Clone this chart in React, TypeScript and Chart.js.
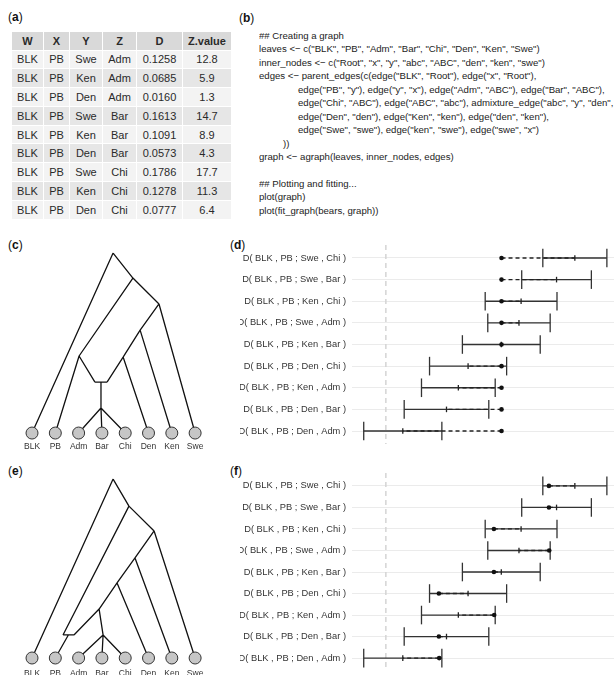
import React, { useEffect, useRef } from 'react';
import { Chart, registerables } from 'chart.js';
Chart.register(...registerables);

const FONT = '"Liberation Sans", Arial, Helvetica, sans-serif';

// ---------- Table (a) data ----------
const colHeaders = ['W', 'X', 'Y', 'Z', 'D', 'Z.value'];
const colW = ['BLK', 'BLK', 'BLK', 'BLK', 'BLK', 'BLK', 'BLK', 'BLK', 'BLK'];
const colX = ['PB', 'PB', 'PB', 'PB', 'PB', 'PB', 'PB', 'PB', 'PB'];
const colY = ['Swe', 'Ken', 'Den', 'Swe', 'Ken', 'Den', 'Swe', 'Ken', 'Den'];
const colZ = ['Adm', 'Adm', 'Adm', 'Bar', 'Bar', 'Bar', 'Chi', 'Chi', 'Chi'];
const colD = [0.1258, 0.0685, 0.0160, 0.1613, 0.1091, 0.0573, 0.1786, 0.1278, 0.0777];
const colZval = [12.8, 5.9, 1.3, 14.7, 8.9, 4.3, 17.7, 11.3, 6.4];

// fitted D values (table order) for the two graphs
const fitC = [0.1093, 0.1093, 0.1093, 0.1093, 0.1093, 0.1093, 0.1093, 0.1093, 0.1093];
const fitE = [0.1544, 0.1024, 0.0504, 0.1541, 0.1021, 0.0501, 0.1541, 0.1021, 0.0501];

// ---------- Code (b) ----------
const codeLines: [number, string][] = [
  [0, '## Creating a graph'],
  [0, 'leaves <\u2212 c("BLK", "PB", "Adm", "Bar", "Chi", "Den", "Ken", "Swe")'],
  [0, 'inner_nodes <\u2212 c("Root", "x", "y", "abc", "ABC", "den", "ken", "swe")'],
  [0, 'edges <\u2212 parent_edges(c(edge("BLK", "Root"), edge("x", "Root"),'],
  [2, 'edge("PB", "y"), edge("y", "x"), edge("Adm", "ABC"), edge("Bar", "ABC"),'],
  [2, 'edge("Chi", "ABC"), edge("ABC", "abc"), admixture_edge("abc", "y", "den", "a"),'],
  [2, 'edge("Den", "den"), edge("Ken", "ken"), edge("den", "ken"),'],
  [2, 'edge("Swe", "swe"), edge("ken", "swe"), edge("swe", "x")'],
  [1, '))'],
  [0, 'graph <\u2212 agraph(leaves, inner_nodes, edges)'],
  [0, ''],
  [0, '## Plotting and fitting...'],
  [0, 'plot(graph)'],
  [0, 'plot(fit_graph(bears, graph))'],
];

// ---------- Trees (c), (e) ----------
const leafNames = ['BLK', 'PB', 'Adm', 'Bar', 'Chi', 'Den', 'Ken', 'Swe'];
const leafPos = [1, 2, 3, 4, 5, 6, 7, 8];

const treeCInner = ['Root', 'x', 'swe', 'ken', 'den', 'y', 'admL', 'admM', 'admR', 'ABC'];
const treeCX = [4.48, 5.33, 6.45, 5.64, 4.91, 3.02, 3.70, 3.96, 4.22, 3.96];
const treeCH = [10.0, 8.61, 7.17, 5.72, 4.22, 4.28, 2.83, 2.83, 2.83, 1.39];
const treeCEdges: [string, string][] = [
  ['Root', 'BLK'], ['Root', 'x'], ['x', 'y'], ['x', 'swe'], ['y', 'PB'], ['y', 'admL'],
  ['admL', 'admR'], ['den', 'admR'], ['admM', 'ABC'], ['ABC', 'Adm'], ['ABC', 'Bar'],
  ['ABC', 'Chi'], ['den', 'Den'], ['ken', 'den'], ['ken', 'Ken'], ['swe', 'ken'], ['swe', 'Swe'],
];

const treeEInner = ['Root', 'x', 'swe', 'ken', 'den', 'abc', 'admL', 'admM', 'admR', 'ABC'];
const treeEX = [4.48, 5.16, 6.24, 5.42, 4.65, 3.88, 2.33, 2.56, 2.80, 4.05];
const treeEH = [9.94, 8.44, 7.06, 5.56, 4.17, 2.72, 1.28, 1.28, 1.28, 1.28];
const treeEEdges: [string, string][] = [
  ['Root', 'BLK'], ['Root', 'x'], ['x', 'admL'], ['x', 'swe'], ['admL', 'admR'], ['admM', 'PB'],
  ['abc', 'admR'], ['abc', 'ABC'], ['den', 'abc'], ['ABC', 'Adm'], ['ABC', 'Bar'], ['ABC', 'Chi'],
  ['den', 'Den'], ['ken', 'den'], ['ken', 'Ken'], ['swe', 'ken'], ['swe', 'Swe'],
];

function TreeChart(props: {
  inner: string[]; ix: number[]; ih: number[]; edges: [string, string][];
  left: number; top: number; width: number; height: number;
  xMin: number; xMax: number; yMin: number; yMax: number; labelOffset: number;
}) {
  const ref = useRef<HTMLCanvasElement>(null);
  useEffect(() => {
    const pos = (n: string) => {
      const li = leafNames.indexOf(n);
      if (li >= 0) return { x: leafPos[li], y: 0 };
      const ii = props.inner.indexOf(n);
      return { x: props.ix[ii], y: props.ih[ii] };
    };
    const edgeData: any[] = [];
    props.edges.forEach(([a, b]) => {
      edgeData.push(pos(a), pos(b), { x: null, y: null });
    });
    const labelPlugin = {
      id: 'leafLabels',
      afterDatasetsDraw(chart: any) {
        const { ctx, scales } = chart;
        ctx.save();
        ctx.font = `8.5px ${FONT}`;
        ctx.fillStyle = '#333';
        ctx.textAlign = 'center';
        ctx.textBaseline = 'middle';
        leafNames.forEach((n, i) => {
          ctx.fillText(n, scales.x.getPixelForValue(leafPos[i]), scales.y.getPixelForValue(0) + props.labelOffset);
        });
        ctx.restore();
      },
    };
    const chart = new Chart(ref.current!, {
      type: 'scatter',
      data: {
        datasets: [
          {
            data: leafPos.map((x) => ({ x, y: 0 })),
            pointRadius: 6,
            pointBackgroundColor: '#c6c6c6',
            pointBorderColor: '#333',
            pointBorderWidth: 1,
            showLine: false,
            clip: false,
          } as any,
          {
            data: edgeData,
            showLine: true,
            borderColor: '#111',
            borderWidth: 1.3,
            pointRadius: 0,
            spanGaps: false,
          } as any,
        ],
      },
      options: {
        animation: false,
        responsive: false,
        events: [],
        layout: { padding: 0, autoPadding: false },
        plugins: { legend: { display: false }, tooltip: { enabled: false } },
        scales: {
          x: { type: 'linear', min: props.xMin, max: props.xMax, display: false },
          y: { type: 'linear', min: props.yMin, max: props.yMax, display: false },
        },
      } as any,
      plugins: [labelPlugin],
    });
    return () => chart.destroy();
  }, []);
  return (
    <canvas ref={ref} width={props.width} height={props.height}
      style={{ position: 'absolute', left: props.left, top: props.top }} />
  );
}

// ---------- Forest plots (d), (f) ----------
const rowOrder = colD.map((_, i) => i).sort((a, b) => colD[b] - colD[a]);
const rowLabels = rowOrder.map((i) => `D( ${colW[i]} , ${colX[i]} ; ${colY[i]} , ${colZ[i]} )`);

function ForestChart(props: { pred: number[]; left: number; top: number; width: number; height: number; padTop: number; padBottom: number }) {
  const ref = useRef<HTMLCanvasElement>(null);
  useEffect(() => {
    const lo = (i: number) => colD[i] - 3 * colD[i] / colZval[i];
    const hi = (i: number) => colD[i] + 3 * colD[i] / colZval[i];
    const gap = { x: null, y: null };
    const errData: any[] = [];
    const capData: any[] = [];
    const dashData: any[] = [];
    rowOrder.forEach((i, r) => {
      errData.push({ x: lo(i), y: r + 1 }, { x: hi(i), y: r + 1 }, gap);
      capData.push({ x: lo(i), y: r + 1 }, { x: hi(i), y: r + 1 });
      dashData.push({ x: props.pred[i], y: r + 1 }, { x: colD[i], y: r + 1 }, gap);
    });
    const chart = new Chart(ref.current!, {
      type: 'scatter',
      data: {
        datasets: [
          {
            data: rowOrder.map((i, r) => ({ x: props.pred[i], y: r + 1 })),
            pointRadius: 2.3,
            pointBackgroundColor: '#111',
            pointBorderWidth: 0,
            showLine: false,
          } as any,
          {
            data: rowOrder.map((i, r) => ({ x: colD[i], y: r + 1 })),
            pointStyle: 'line',
            pointRotation: 90,
            pointRadius: 2.8,
            pointBorderColor: '#222',
            pointBorderWidth: 1.3,
            showLine: false,
          } as any,
          {
            data: dashData,
            showLine: true,
            borderColor: '#222',
            borderWidth: 1.3,
            borderDash: [4, 3],
            pointRadius: 0,
          } as any,
          {
            data: capData,
            pointStyle: 'line',
            pointRotation: 90,
            pointRadius: 9.3,
            pointBorderColor: '#333',
            pointBorderWidth: 1.3,
            showLine: false,
            clip: false,
          } as any,
          {
            data: errData,
            showLine: true,
            borderColor: '#333',
            borderWidth: 1.3,
            pointRadius: 0,
          } as any,
          {
            data: [{ x: 0, y: 0.4 }, { x: 0, y: 9.6 }],
            showLine: true,
            borderColor: '#d4d4d4',
            borderWidth: 1.5,
            borderDash: [5, 4],
            pointRadius: 0,
          } as any,
        ],
      },
      options: {
        animation: false,
        responsive: false,
        events: [],
        layout: { padding: { top: props.padTop, bottom: props.padBottom, left: 0, right: 0 }, autoPadding: false },
        plugins: { legend: { display: false }, tooltip: { enabled: false } },
        scales: {
          x: { type: 'linear', min: -0.032, max: 0.2156, display: false },
          y: {
            type: 'linear',
            min: 0.4,
            max: 9.6,
            reverse: true,
            afterBuildTicks: (axis: any) => {
              axis.ticks = rowLabels.map((_, r) => ({ value: r + 1 }));
            },
            afterFit: (axis: any) => {
              axis.width = 112;
              axis.paddingTop = 0;
              axis.paddingBottom = 0;
            },
            ticks: {
              autoSkip: false,
              padding: 6,
              color: '#333',
              font: { family: FONT, size: 9.3 },
              callback: (v: any) => rowLabels[Math.round(v) - 1] ?? '',
            },
            grid: { color: '#ebebeb', lineWidth: 1, drawTicks: false },
            border: { display: false },
          } as any,
        },
      } as any,
    });
    return () => chart.destroy();
  }, []);
  return (
    <canvas ref={ref} width={props.width} height={props.height}
      style={{ position: 'absolute', left: props.left, top: props.top }} />
  );
}

function PanelLabel({ letter, left, top }: { letter: string; left: number; top: number }) {
  return (
    <div style={{ position: 'absolute', left, top, fontSize: 12, lineHeight: '14px', color: '#111' }}>
      (<b>{letter}</b>)
    </div>
  );
}

function DataTable() {
  const widths = [31, 25, 32, 33, 45, 48];
  const cells: React.ReactNode[] = [];
  colHeaders.forEach((h, c) => {
    cells.push(
      <div key={'h' + c} style={{ background: '#d9d9d9', fontWeight: 'bold', display: 'flex', alignItems: 'center', justifyContent: 'center' }}>{h}</div>
    );
  });
  colD.forEach((d, r) => {
    const vals = [colW[r], colX[r], colY[r], colZ[r], d.toFixed(4), colZval[r].toFixed(1)];
    const bg = r % 2 === 0 ? '#f3f3f3' : '#e6e6e6';
    vals.forEach((v, c) => {
      cells.push(
        <div key={r + '-' + c} style={{ background: bg, display: 'flex', alignItems: 'center', justifyContent: 'center' }}>{v}</div>
      );
    });
  });
  return (
    <div style={{
      position: 'absolute', left: 12, top: 32, display: 'grid',
      gridTemplateColumns: widths.map((w) => w + 'px').join(' '),
      gridTemplateRows: '17.5px repeat(9, 17.8px)', columnGap: 1, rowGap: 1,
      fontSize: 11, color: '#2a2a2a', background: '#fff',
    }}>
      {cells}
    </div>
  );
}

function CodeBlock() {
  return (
    <div style={{ position: 'absolute', left: 259, top: 29, width: 355, overflow: 'hidden', fontSize: 9.6, lineHeight: '13.45px', color: '#222' }}>
      {codeLines.map(([lvl, t], i) => (
        <div key={i} style={{ whiteSpace: 'pre', paddingLeft: lvl === 2 ? 39 : lvl === 1 ? 24 : 0, height: 13.45 }}>{t}</div>
      ))}
    </div>
  );
}

export default function App() {
  return (
    <div style={{ position: 'absolute', left: 0, top: 0, width: 614, height: 675, overflow: 'hidden', background: '#fff', fontFamily: FONT }}>
      <PanelLabel letter="a" left={8} top={10} />
      <PanelLabel letter="b" left={239} top={11} />
      <PanelLabel letter="c" left={8} top={238} />
      <PanelLabel letter="d" left={230} top={238} />
      <PanelLabel letter="e" left={8} top={464} />
      <PanelLabel letter="f" left={230} top={464} />
      <DataTable />
      <CodeBlock />
      <TreeChart inner={treeCInner} ix={treeCX} ih={treeCH} edges={treeCEdges}
        left={0} top={230} width={228} height={225} labelOffset={14}
        xMin={-0.374} xMax={-0.374 + 228 / 23.3} yMin={-1.22} yMax={-1.22 + 225 / 18} />
      <TreeChart inner={treeEInner} ix={treeEX} ih={treeEH} edges={treeEEdges}
        left={0} top={455} width={228} height={220} labelOffset={16}
        xMin={-0.374} xMax={-0.374 + 228 / 23.3} yMin={-0.944} yMax={-0.944 + 220 / 18} />
      <ForestChart pred={fitC} left={240} top={240} width={374} height={215} padTop={5} padBottom={11} />
      <ForestChart pred={fitE} left={240} top={465} width={374} height={210} padTop={8} padBottom={4} />
    </div>
  );
}
